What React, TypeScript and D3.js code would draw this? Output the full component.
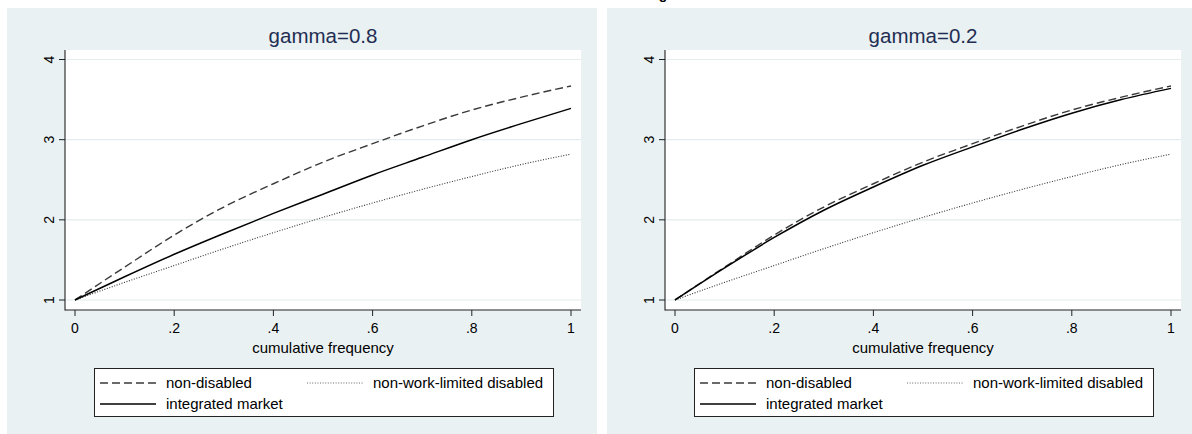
import React from "react";
import * as d3 from "d3";

const freq = [0, 0.1, 0.2, 0.3, 0.4, 0.5, 0.6, 0.7, 0.8, 0.9, 1];
const nonDisabled = [1, 1.41, 1.81, 2.16, 2.45, 2.72, 2.95, 3.17, 3.37, 3.53, 3.67];
const nonWorkLimited = [1, 1.22, 1.43, 1.64, 1.84, 2.03, 2.21, 2.38, 2.54, 2.69, 2.82];
const integratedG08 = [1, 1.29, 1.57, 1.83, 2.08, 2.32, 2.56, 2.78, 3.0, 3.2, 3.39];
const integratedG02 = [1, 1.4, 1.78, 2.12, 2.41, 2.68, 2.91, 3.13, 3.33, 3.5, 3.64];

const xTicks = [0, 0.2, 0.4, 0.6, 0.8, 1];
const xTickLabels = ["0", ".2", ".4", ".6", ".8", "1"];
const yTicks = [1, 2, 3, 4];
const panelTitles = ["gamma=0.8", "gamma=0.2"];

const FONT = "'Liberation Sans', Arial, Helvetica, sans-serif";
const BG = "#eaf1f3";
const GRID = "#e4eced";

function Panel(props: { dx: number; title: string; integrated: number[] }) {
  const { dx, title, integrated } = props;

  const x = d3.scaleLinear().domain([0, 1]).range([75, 571]);
  const y = d3.scaleLinear().domain([1, 4]).range([300, 59.5]);

  const line = d3
    .line<number>()
    .x((_, i) => x(freq[i]))
    .y((d) => y(d))
    .curve(d3.curveMonotoneX);

  return (
    <g transform={`translate(${dx},0)`}>
      {/* graph region */}
      <rect x={7} y={8} width={590} height={426} fill={BG} />
      {/* plot region */}
      <rect x={65} y={50} width={516} height={260} fill="#ffffff" />
      {yTicks.map((t) => (
        <line key={t} x1={65} x2={581} y1={y(t)} y2={y(t)} stroke={GRID} strokeWidth={1.2} />
      ))}

      {/* series */}
      <path d={line(nonWorkLimited) || ""} fill="none" stroke="#333" strokeWidth={1.1} strokeDasharray="1 1.6" />
      <path d={line(nonDisabled) || ""} fill="none" stroke="#3a3a3a" strokeWidth={1.4} strokeDasharray="8 4" />
      <path d={line(integrated) || ""} fill="none" stroke="#000" strokeWidth={1.5} />

      {/* axes */}
      <line x1={65} x2={65} y1={50} y2={310.5} stroke="#222" strokeWidth={1.1} />
      <line x1={65} x2={581} y1={310} y2={310} stroke="#222" strokeWidth={1.1} />
      {yTicks.map((t) => (
        <g key={t}>
          <line x1={59} x2={65} y1={y(t)} y2={y(t)} stroke="#222" strokeWidth={1} />
          <text
            transform={`translate(${54},${y(t)}) rotate(-90)`}
            textAnchor="middle"
            fontFamily={FONT}
            fontSize={14}
            fill="#000"
          >
            {String(t)}
          </text>
        </g>
      ))}
      {xTicks.map((t, i) => (
        <g key={t}>
          <line x1={x(t)} x2={x(t)} y1={310} y2={316} stroke="#222" strokeWidth={1} />
          <text x={x(t)} y={333} textAnchor="middle" fontFamily={FONT} fontSize={14} fill="#000">
            {xTickLabels[i]}
          </text>
        </g>
      ))}
      <text x={323} y={353} textAnchor="middle" fontFamily={FONT} fontSize={15} fill="#000">
        cumulative frequency
      </text>

      {/* title */}
      <text x={323} y={43} textAnchor="middle" fontFamily={FONT} fontSize={20.5} fill="#1f2e52">
        {title}
      </text>

      {/* legend */}
      <rect x={94.5} y={368.5} width={459} height={48} fill="#fff" stroke="#222" strokeWidth={1} />
      <line x1={100} x2={156} y1={383} y2={383} stroke="#3a3a3a" strokeWidth={1.4} strokeDasharray="8 4" />
      <text x={166} y={388} fontFamily={FONT} fontSize={15} fill="#000">
        non-disabled
      </text>
      <line x1={307} x2={363} y1={383} y2={383} stroke="#666" strokeWidth={1} strokeDasharray="1 1.6" />
      <text x={373} y={388} fontFamily={FONT} fontSize={15} fill="#000">
        non-work-limited disabled
      </text>
      <line x1={100} x2={156} y1={404} y2={404} stroke="#000" strokeWidth={1.5} />
      <text x={166} y={409} fontFamily={FONT} fontSize={15} fill="#000">
        integrated market
      </text>
    </g>
  );
}

export default function App() {
  return (
    <svg
      width={1192}
      height={434}
      style={{ position: "absolute", left: 0, top: 0, display: "block", background: "#fff" }}
    >
      <Panel dx={0} title={panelTitles[0]} integrated={integratedG08} />
      <Panel dx={600} title={panelTitles[1]} integrated={integratedG02} />
      {/* the reference crops an outer title: only a descender shows at the top edge */}
      <text x={663} y={-1.5} textAnchor="middle" fontFamily={FONT} fontSize={14} fontWeight="bold" fill="#000">
        g
      </text>
    </svg>
  );
}
